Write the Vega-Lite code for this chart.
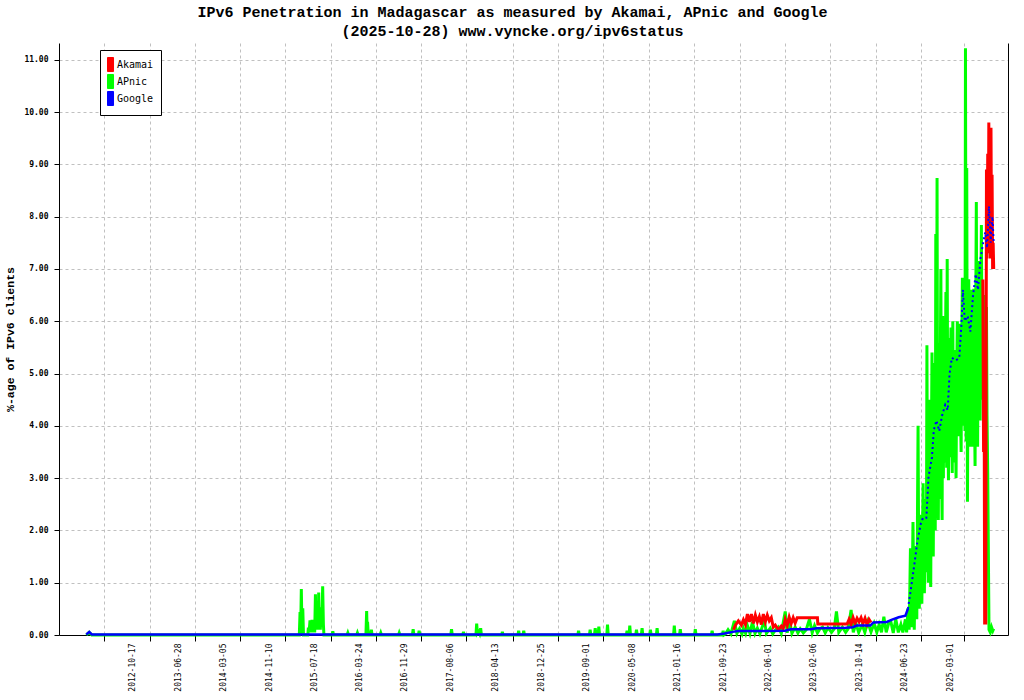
{
  "$schema": "https://vega.github.io/schema/vega-lite/v6.json",
  "width": 949,
  "height": 592,
  "autosize": "none",
  "padding": {"left": 59, "top": 43, "right": 16, "bottom": 65},
  "background": "white",
  "title": {
    "text": ["IPv6 Penetration in Madagascar as measured by Akamai, APnic and Google", "(2025-10-28) www.vyncke.org/ipv6status"],
    "font": "Liberation Mono",
    "fontSize": 15,
    "fontWeight": "bold",
    "color": "black",
    "anchor": "middle",
    "frame": "group",
    "dx": -21,
    "offset": 3,
    "lineHeight": 19
  },
  "data": {
    "values": [
      {"s": "APnic", "d": "2012-02-04", "v": 0},
      {"s": "APnic", "d": "2012-02-20", "v": 0.05},
      {"s": "APnic", "d": "2012-03-05", "v": 0},
      {"s": "APnic", "d": "2015-04-26", "v": 0},
      {"s": "APnic", "d": "2015-04-30", "v": 0.44},
      {"s": "APnic", "d": "2015-05-03", "v": 0.02},
      {"s": "APnic", "d": "2015-05-07", "v": 0.88},
      {"s": "APnic", "d": "2015-05-11", "v": 0.02},
      {"s": "APnic", "d": "2015-05-15", "v": 0.51},
      {"s": "APnic", "d": "2015-05-19", "v": 0},
      {"s": "APnic", "d": "2015-06-12", "v": 0},
      {"s": "APnic", "d": "2015-06-15", "v": 0.14},
      {"s": "APnic", "d": "2015-06-19", "v": 0.05},
      {"s": "APnic", "d": "2015-06-24", "v": 0.28},
      {"s": "APnic", "d": "2015-06-28", "v": 0.05},
      {"s": "APnic", "d": "2015-07-02", "v": 0.2},
      {"s": "APnic", "d": "2015-07-05", "v": 0.29},
      {"s": "APnic", "d": "2015-07-10", "v": 0.05},
      {"s": "APnic", "d": "2015-07-15", "v": 0.23},
      {"s": "APnic", "d": "2015-07-20", "v": 0.05},
      {"s": "APnic", "d": "2015-07-24", "v": 0.78},
      {"s": "APnic", "d": "2015-07-27", "v": 0.1},
      {"s": "APnic", "d": "2015-07-29", "v": 0.45},
      {"s": "APnic", "d": "2015-08-02", "v": 0.1},
      {"s": "APnic", "d": "2015-08-06", "v": 0.5},
      {"s": "APnic", "d": "2015-08-08", "v": 0.1},
      {"s": "APnic", "d": "2015-08-11", "v": 0.81},
      {"s": "APnic", "d": "2015-08-14", "v": 0.15},
      {"s": "APnic", "d": "2015-08-17", "v": 0.53},
      {"s": "APnic", "d": "2015-08-20", "v": 0.1},
      {"s": "APnic", "d": "2015-08-24", "v": 0.45},
      {"s": "APnic", "d": "2015-08-28", "v": 0.15},
      {"s": "APnic", "d": "2015-09-02", "v": 0.93},
      {"s": "APnic", "d": "2015-09-06", "v": 0.2},
      {"s": "APnic", "d": "2015-09-09", "v": 0},
      {"s": "APnic", "d": "2015-10-24", "v": 0},
      {"s": "APnic", "d": "2015-10-28", "v": 0.07},
      {"s": "APnic", "d": "2015-11-01", "v": 0},
      {"s": "APnic", "d": "2016-01-15", "v": 0},
      {"s": "APnic", "d": "2016-01-19", "v": 0.04},
      {"s": "APnic", "d": "2016-01-23", "v": 0},
      {"s": "APnic", "d": "2016-03-08", "v": 0},
      {"s": "APnic", "d": "2016-03-12", "v": 0.04},
      {"s": "APnic", "d": "2016-03-16", "v": 0},
      {"s": "APnic", "d": "2016-04-28", "v": 0},
      {"s": "APnic", "d": "2016-05-02", "v": 0.46},
      {"s": "APnic", "d": "2016-05-05", "v": 0.05},
      {"s": "APnic", "d": "2016-05-07", "v": 0.25},
      {"s": "APnic", "d": "2016-05-11", "v": 0},
      {"s": "APnic", "d": "2016-05-24", "v": 0},
      {"s": "APnic", "d": "2016-05-28", "v": 0.1},
      {"s": "APnic", "d": "2016-06-01", "v": 0},
      {"s": "APnic", "d": "2016-07-15", "v": 0},
      {"s": "APnic", "d": "2016-07-19", "v": 0.04},
      {"s": "APnic", "d": "2016-07-23", "v": 0},
      {"s": "APnic", "d": "2016-10-25", "v": 0},
      {"s": "APnic", "d": "2016-10-29", "v": 0.04},
      {"s": "APnic", "d": "2016-11-02", "v": 0},
      {"s": "APnic", "d": "2017-01-10", "v": 0},
      {"s": "APnic", "d": "2017-01-14", "v": 0.11},
      {"s": "APnic", "d": "2017-01-18", "v": 0},
      {"s": "APnic", "d": "2017-02-12", "v": 0},
      {"s": "APnic", "d": "2017-02-16", "v": 0.08},
      {"s": "APnic", "d": "2017-02-20", "v": 0},
      {"s": "APnic", "d": "2017-08-10", "v": 0},
      {"s": "APnic", "d": "2017-08-14", "v": 0.11},
      {"s": "APnic", "d": "2017-08-18", "v": 0},
      {"s": "APnic", "d": "2017-10-15", "v": 0},
      {"s": "APnic", "d": "2017-10-19", "v": 0.06},
      {"s": "APnic", "d": "2017-10-23", "v": 0},
      {"s": "APnic", "d": "2017-12-27", "v": 0},
      {"s": "APnic", "d": "2017-12-31", "v": 0.22},
      {"s": "APnic", "d": "2018-01-04", "v": 0.03},
      {"s": "APnic", "d": "2018-01-10", "v": 0.06},
      {"s": "APnic", "d": "2018-01-16", "v": 0.02},
      {"s": "APnic", "d": "2018-01-22", "v": 0.13},
      {"s": "APnic", "d": "2018-01-26", "v": 0},
      {"s": "APnic", "d": "2018-05-18", "v": 0},
      {"s": "APnic", "d": "2018-05-22", "v": 0.06},
      {"s": "APnic", "d": "2018-05-26", "v": 0},
      {"s": "APnic", "d": "2018-08-16", "v": 0},
      {"s": "APnic", "d": "2018-08-20", "v": 0.08},
      {"s": "APnic", "d": "2018-08-24", "v": 0},
      {"s": "APnic", "d": "2018-09-13", "v": 0},
      {"s": "APnic", "d": "2018-09-17", "v": 0.08},
      {"s": "APnic", "d": "2018-09-21", "v": 0},
      {"s": "APnic", "d": "2019-07-13", "v": 0},
      {"s": "APnic", "d": "2019-07-17", "v": 0.08},
      {"s": "APnic", "d": "2019-07-21", "v": 0},
      {"s": "APnic", "d": "2019-09-15", "v": 0},
      {"s": "APnic", "d": "2019-09-19", "v": 0.1},
      {"s": "APnic", "d": "2019-09-23", "v": 0},
      {"s": "APnic", "d": "2019-10-13", "v": 0},
      {"s": "APnic", "d": "2019-10-17", "v": 0.13},
      {"s": "APnic", "d": "2019-10-21", "v": 0},
      {"s": "APnic", "d": "2019-11-02", "v": 0},
      {"s": "APnic", "d": "2019-11-06", "v": 0.16},
      {"s": "APnic", "d": "2019-11-10", "v": 0},
      {"s": "APnic", "d": "2019-12-20", "v": 0},
      {"s": "APnic", "d": "2019-12-24", "v": 0.2},
      {"s": "APnic", "d": "2019-12-28", "v": 0},
      {"s": "APnic", "d": "2020-04-06", "v": 0},
      {"s": "APnic", "d": "2020-04-10", "v": 0.08},
      {"s": "APnic", "d": "2020-04-14", "v": 0},
      {"s": "APnic", "d": "2020-04-21", "v": 0},
      {"s": "APnic", "d": "2020-04-25", "v": 0.18},
      {"s": "APnic", "d": "2020-04-29", "v": 0},
      {"s": "APnic", "d": "2020-05-28", "v": 0},
      {"s": "APnic", "d": "2020-06-01", "v": 0.1},
      {"s": "APnic", "d": "2020-06-05", "v": 0},
      {"s": "APnic", "d": "2020-06-28", "v": 0},
      {"s": "APnic", "d": "2020-07-02", "v": 0.13},
      {"s": "APnic", "d": "2020-07-06", "v": 0},
      {"s": "APnic", "d": "2020-08-13", "v": 0},
      {"s": "APnic", "d": "2020-08-17", "v": 0.1},
      {"s": "APnic", "d": "2020-08-21", "v": 0},
      {"s": "APnic", "d": "2020-09-19", "v": 0},
      {"s": "APnic", "d": "2020-09-23", "v": 0.13},
      {"s": "APnic", "d": "2020-09-27", "v": 0},
      {"s": "APnic", "d": "2020-12-23", "v": 0},
      {"s": "APnic", "d": "2020-12-27", "v": 0.18},
      {"s": "APnic", "d": "2020-12-31", "v": 0},
      {"s": "APnic", "d": "2021-01-25", "v": 0},
      {"s": "APnic", "d": "2021-01-29", "v": 0.11},
      {"s": "APnic", "d": "2021-02-02", "v": 0},
      {"s": "APnic", "d": "2021-04-18", "v": 0},
      {"s": "APnic", "d": "2021-04-22", "v": 0.11},
      {"s": "APnic", "d": "2021-04-26", "v": 0},
      {"s": "APnic", "d": "2021-07-20", "v": 0},
      {"s": "APnic", "d": "2021-07-24", "v": 0.08},
      {"s": "APnic", "d": "2021-07-28", "v": 0},
      {"s": "APnic", "d": "2021-09-19", "v": 0},
      {"s": "APnic", "d": "2021-09-23", "v": 0.08},
      {"s": "APnic", "d": "2021-09-27", "v": 0},
      {"s": "APnic", "d": "2021-10-05", "v": 0.02},
      {"s": "APnic", "d": "2021-10-20", "v": 0.1},
      {"s": "APnic", "d": "2021-11-05", "v": 0.02},
      {"s": "APnic", "d": "2021-11-24", "v": 0.27},
      {"s": "APnic", "d": "2021-12-08", "v": 0.03},
      {"s": "APnic", "d": "2021-12-22", "v": 0.12},
      {"s": "APnic", "d": "2022-01-05", "v": 0.02},
      {"s": "APnic", "d": "2022-01-13", "v": 0.13},
      {"s": "APnic", "d": "2022-01-25", "v": 0.03},
      {"s": "APnic", "d": "2022-02-04", "v": 0.18},
      {"s": "APnic", "d": "2022-02-18", "v": 0.03},
      {"s": "APnic", "d": "2022-03-04", "v": 0.25},
      {"s": "APnic", "d": "2022-03-18", "v": 0.03},
      {"s": "APnic", "d": "2022-03-31", "v": 0.13},
      {"s": "APnic", "d": "2022-04-14", "v": 0.02},
      {"s": "APnic", "d": "2022-05-09", "v": 0.28},
      {"s": "APnic", "d": "2022-05-20", "v": 0.03},
      {"s": "APnic", "d": "2022-06-10", "v": 0.13},
      {"s": "APnic", "d": "2022-06-24", "v": 0.02},
      {"s": "APnic", "d": "2022-07-10", "v": 0.1},
      {"s": "APnic", "d": "2022-07-25", "v": 0.15},
      {"s": "APnic", "d": "2022-08-10", "v": 0.03},
      {"s": "APnic", "d": "2022-09-01", "v": 0.45},
      {"s": "APnic", "d": "2022-09-12", "v": 0.04},
      {"s": "APnic", "d": "2022-09-23", "v": 0.32},
      {"s": "APnic", "d": "2022-10-08", "v": 0.03},
      {"s": "APnic", "d": "2022-10-26", "v": 0.15},
      {"s": "APnic", "d": "2022-11-10", "v": 0.04},
      {"s": "APnic", "d": "2022-11-23", "v": 0.12},
      {"s": "APnic", "d": "2022-12-10", "v": 0.04},
      {"s": "APnic", "d": "2022-12-26", "v": 0.1},
      {"s": "APnic", "d": "2023-01-13", "v": 0.3},
      {"s": "APnic", "d": "2023-01-28", "v": 0.04},
      {"s": "APnic", "d": "2023-02-10", "v": 0.18},
      {"s": "APnic", "d": "2023-02-26", "v": 0.04},
      {"s": "APnic", "d": "2023-03-12", "v": 0.12},
      {"s": "APnic", "d": "2023-03-26", "v": 0.15},
      {"s": "APnic", "d": "2023-04-10", "v": 0.04},
      {"s": "APnic", "d": "2023-04-25", "v": 0.14},
      {"s": "APnic", "d": "2023-05-15", "v": 0.05},
      {"s": "APnic", "d": "2023-05-30", "v": 0.12},
      {"s": "APnic", "d": "2023-06-11", "v": 0.45},
      {"s": "APnic", "d": "2023-06-24", "v": 0.05},
      {"s": "APnic", "d": "2023-07-14", "v": 0.15},
      {"s": "APnic", "d": "2023-08-01", "v": 0.05},
      {"s": "APnic", "d": "2023-08-15", "v": 0.12},
      {"s": "APnic", "d": "2023-08-31", "v": 0.48},
      {"s": "APnic", "d": "2023-09-12", "v": 0.05},
      {"s": "APnic", "d": "2023-09-27", "v": 0.22},
      {"s": "APnic", "d": "2023-10-12", "v": 0.05},
      {"s": "APnic", "d": "2023-10-31", "v": 0.2},
      {"s": "APnic", "d": "2023-11-15", "v": 0.05},
      {"s": "APnic", "d": "2023-12-01", "v": 0.25},
      {"s": "APnic", "d": "2023-12-19", "v": 0.06},
      {"s": "APnic", "d": "2024-01-05", "v": 0.22},
      {"s": "APnic", "d": "2024-01-20", "v": 0.05},
      {"s": "APnic", "d": "2024-02-02", "v": 0.2},
      {"s": "APnic", "d": "2024-02-15", "v": 0.05},
      {"s": "APnic", "d": "2024-02-28", "v": 0.35},
      {"s": "APnic", "d": "2024-03-12", "v": 0.05},
      {"s": "APnic", "d": "2024-03-25", "v": 0.22},
      {"s": "APnic", "d": "2024-04-07", "v": 0.25},
      {"s": "APnic", "d": "2024-04-20", "v": 0.04},
      {"s": "APnic", "d": "2024-05-04", "v": 0.3},
      {"s": "APnic", "d": "2024-05-18", "v": 0.05},
      {"s": "APnic", "d": "2024-06-01", "v": 0.2},
      {"s": "APnic", "d": "2024-06-12", "v": 0.05},
      {"s": "APnic", "d": "2024-06-26", "v": 0.3},
      {"s": "APnic", "d": "2024-07-03", "v": 0.05},
      {"s": "APnic", "d": "2024-07-10", "v": 0.51},
      {"s": "APnic", "d": "2024-07-17", "v": 0.1},
      {"s": "APnic", "d": "2024-07-24", "v": 1.66},
      {"s": "APnic", "d": "2024-07-31", "v": 0.15},
      {"s": "APnic", "d": "2024-08-07", "v": 2.16},
      {"s": "APnic", "d": "2024-08-14", "v": 0.1},
      {"s": "APnic", "d": "2024-08-21", "v": 1.7},
      {"s": "APnic", "d": "2024-08-28", "v": 0.3},
      {"s": "APnic", "d": "2024-09-04", "v": 4.0},
      {"s": "APnic", "d": "2024-09-08", "v": 1.2},
      {"s": "APnic", "d": "2024-09-11", "v": 0.5},
      {"s": "APnic", "d": "2024-09-14", "v": 1.6},
      {"s": "APnic", "d": "2024-09-18", "v": 2.3},
      {"s": "APnic", "d": "2024-09-21", "v": 1.0},
      {"s": "APnic", "d": "2024-09-25", "v": 0.6},
      {"s": "APnic", "d": "2024-09-28", "v": 1.8},
      {"s": "APnic", "d": "2024-10-02", "v": 2.9},
      {"s": "APnic", "d": "2024-10-05", "v": 1.4},
      {"s": "APnic", "d": "2024-10-09", "v": 0.8},
      {"s": "APnic", "d": "2024-10-12", "v": 2.0},
      {"s": "APnic", "d": "2024-10-16", "v": 2.6},
      {"s": "APnic", "d": "2024-10-20", "v": 1.2},
      {"s": "APnic", "d": "2024-10-23", "v": 5.54},
      {"s": "APnic", "d": "2024-10-26", "v": 2.2},
      {"s": "APnic", "d": "2024-10-30", "v": 1.0},
      {"s": "APnic", "d": "2024-11-02", "v": 2.8},
      {"s": "APnic", "d": "2024-11-06", "v": 4.5},
      {"s": "APnic", "d": "2024-11-09", "v": 1.8},
      {"s": "APnic", "d": "2024-11-13", "v": 0.92},
      {"s": "APnic", "d": "2024-11-16", "v": 3.2},
      {"s": "APnic", "d": "2024-11-20", "v": 5.4},
      {"s": "APnic", "d": "2024-11-23", "v": 2.4},
      {"s": "APnic", "d": "2024-11-27", "v": 1.5},
      {"s": "APnic", "d": "2024-11-30", "v": 3.6},
      {"s": "APnic", "d": "2024-12-04", "v": 5.2},
      {"s": "APnic", "d": "2024-12-08", "v": 2.0},
      {"s": "APnic", "d": "2024-12-11", "v": 7.67},
      {"s": "APnic", "d": "2024-12-14", "v": 2.3},
      {"s": "APnic", "d": "2024-12-18", "v": 8.74},
      {"s": "APnic", "d": "2024-12-21", "v": 3.4},
      {"s": "APnic", "d": "2024-12-25", "v": 2.2},
      {"s": "APnic", "d": "2024-12-29", "v": 5.58},
      {"s": "APnic", "d": "2025-01-01", "v": 2.6},
      {"s": "APnic", "d": "2025-01-04", "v": 4.6},
      {"s": "APnic", "d": "2025-01-08", "v": 7.0},
      {"s": "APnic", "d": "2025-01-11", "v": 3.5},
      {"s": "APnic", "d": "2025-01-15", "v": 2.2},
      {"s": "APnic", "d": "2025-01-18", "v": 6.1},
      {"s": "APnic", "d": "2025-01-22", "v": 3.0},
      {"s": "APnic", "d": "2025-01-25", "v": 5.85},
      {"s": "APnic", "d": "2025-01-29", "v": 3.3},
      {"s": "APnic", "d": "2025-02-01", "v": 5.0},
      {"s": "APnic", "d": "2025-02-05", "v": 6.56},
      {"s": "APnic", "d": "2025-02-09", "v": 3.2},
      {"s": "APnic", "d": "2025-02-12", "v": 7.19},
      {"s": "APnic", "d": "2025-02-15", "v": 4.2},
      {"s": "APnic", "d": "2025-02-19", "v": 2.96},
      {"s": "APnic", "d": "2025-02-22", "v": 5.68},
      {"s": "APnic", "d": "2025-02-26", "v": 3.4},
      {"s": "APnic", "d": "2025-03-01", "v": 4.8},
      {"s": "APnic", "d": "2025-03-05", "v": 5.88},
      {"s": "APnic", "d": "2025-03-08", "v": 4.0},
      {"s": "APnic", "d": "2025-03-12", "v": 3.1},
      {"s": "APnic", "d": "2025-03-15", "v": 6.0},
      {"s": "APnic", "d": "2025-03-19", "v": 3.3},
      {"s": "APnic", "d": "2025-03-22", "v": 4.6},
      {"s": "APnic", "d": "2025-03-26", "v": 5.45},
      {"s": "APnic", "d": "2025-03-29", "v": 4.1},
      {"s": "APnic", "d": "2025-04-02", "v": 3.0},
      {"s": "APnic", "d": "2025-04-05", "v": 4.8},
      {"s": "APnic", "d": "2025-04-09", "v": 6.0},
      {"s": "APnic", "d": "2025-04-12", "v": 4.4},
      {"s": "APnic", "d": "2025-04-16", "v": 3.8},
      {"s": "APnic", "d": "2025-04-19", "v": 5.2},
      {"s": "APnic", "d": "2025-04-23", "v": 5.95},
      {"s": "APnic", "d": "2025-04-26", "v": 4.3},
      {"s": "APnic", "d": "2025-04-30", "v": 3.5},
      {"s": "APnic", "d": "2025-05-03", "v": 5.5},
      {"s": "APnic", "d": "2025-05-07", "v": 6.83},
      {"s": "APnic", "d": "2025-05-10", "v": 4.8},
      {"s": "APnic", "d": "2025-05-14", "v": 4.0},
      {"s": "APnic", "d": "2025-05-17", "v": 6.46},
      {"s": "APnic", "d": "2025-05-21", "v": 3.9},
      {"s": "APnic", "d": "2025-05-24", "v": 11.22},
      {"s": "APnic", "d": "2025-05-28", "v": 3.7},
      {"s": "APnic", "d": "2025-05-31", "v": 8.93},
      {"s": "APnic", "d": "2025-06-04", "v": 2.55},
      {"s": "APnic", "d": "2025-06-07", "v": 5.0},
      {"s": "APnic", "d": "2025-06-11", "v": 6.8},
      {"s": "APnic", "d": "2025-06-14", "v": 4.6},
      {"s": "APnic", "d": "2025-06-18", "v": 3.6},
      {"s": "APnic", "d": "2025-06-21", "v": 5.6},
      {"s": "APnic", "d": "2025-06-25", "v": 6.6},
      {"s": "APnic", "d": "2025-06-28", "v": 4.5},
      {"s": "APnic", "d": "2025-07-02", "v": 3.6},
      {"s": "APnic", "d": "2025-07-05", "v": 5.4},
      {"s": "APnic", "d": "2025-07-09", "v": 6.62},
      {"s": "APnic", "d": "2025-07-12", "v": 4.6},
      {"s": "APnic", "d": "2025-07-16", "v": 3.23},
      {"s": "APnic", "d": "2025-07-19", "v": 5.8},
      {"s": "APnic", "d": "2025-07-23", "v": 8.28},
      {"s": "APnic", "d": "2025-07-26", "v": 5.0},
      {"s": "APnic", "d": "2025-07-30", "v": 3.6},
      {"s": "APnic", "d": "2025-08-02", "v": 5.6},
      {"s": "APnic", "d": "2025-08-06", "v": 7.15},
      {"s": "APnic", "d": "2025-08-09", "v": 5.2},
      {"s": "APnic", "d": "2025-08-13", "v": 4.1},
      {"s": "APnic", "d": "2025-08-16", "v": 6.0},
      {"s": "APnic", "d": "2025-08-20", "v": 7.84},
      {"s": "APnic", "d": "2025-08-23", "v": 5.6},
      {"s": "APnic", "d": "2025-08-27", "v": 4.5},
      {"s": "APnic", "d": "2025-08-30", "v": 5.8},
      {"s": "APnic", "d": "2025-09-03", "v": 6.5},
      {"s": "APnic", "d": "2025-09-06", "v": 4.4},
      {"s": "APnic", "d": "2025-09-10", "v": 3.1},
      {"s": "APnic", "d": "2025-09-13", "v": 4.8},
      {"s": "APnic", "d": "2025-09-17", "v": 6.27},
      {"s": "APnic", "d": "2025-09-20", "v": 4.2},
      {"s": "APnic", "d": "2025-09-24", "v": 3.1},
      {"s": "APnic", "d": "2025-10-01", "v": 0.1},
      {"s": "APnic", "d": "2025-10-08", "v": 0.05},
      {"s": "APnic", "d": "2025-10-15", "v": 0.15},
      {"s": "APnic", "d": "2025-10-22", "v": 0.08},
      {"s": "APnic", "d": "2025-10-27", "v": 0.12},

      {"s": "Akamai", "p": 1, "d": "2021-11-19", "v": 0.1},
      {"s": "Akamai", "p": 1, "d": "2021-11-30", "v": 0.19},
      {"s": "Akamai", "p": 1, "d": "2021-12-16", "v": 0.27},
      {"s": "Akamai", "p": 1, "d": "2022-01-02", "v": 0.19},
      {"s": "Akamai", "p": 1, "d": "2022-01-13", "v": 0.29},
      {"s": "Akamai", "p": 1, "d": "2022-01-24", "v": 0.2},
      {"s": "Akamai", "p": 1, "d": "2022-02-04", "v": 0.4},
      {"s": "Akamai", "p": 1, "d": "2022-02-15", "v": 0.25},
      {"s": "Akamai", "p": 1, "d": "2022-02-26", "v": 0.4},
      {"s": "Akamai", "p": 1, "d": "2022-03-09", "v": 0.22},
      {"s": "Akamai", "p": 1, "d": "2022-03-20", "v": 0.38},
      {"s": "Akamai", "p": 1, "d": "2022-03-31", "v": 0.25},
      {"s": "Akamai", "p": 1, "d": "2022-04-11", "v": 0.35},
      {"s": "Akamai", "p": 1, "d": "2022-04-22", "v": 0.2},
      {"s": "Akamai", "p": 1, "d": "2022-05-03", "v": 0.4},
      {"s": "Akamai", "p": 1, "d": "2022-05-14", "v": 0.25},
      {"s": "Akamai", "p": 1, "d": "2022-05-25", "v": 0.38},
      {"s": "Akamai", "p": 1, "d": "2022-06-05", "v": 0.27},
      {"s": "Akamai", "p": 1, "d": "2022-06-16", "v": 0.33},
      {"s": "Akamai", "p": 1, "d": "2022-06-27", "v": 0.15},
      {"s": "Akamai", "p": 1, "d": "2022-07-08", "v": 0.19},
      {"s": "Akamai", "p": 1, "d": "2022-07-25", "v": 0.1},
      {"s": "Akamai", "p": 1, "d": "2022-08-10", "v": 0.17},
      {"s": "Akamai", "p": 1, "d": "2022-08-21", "v": 0.12},
      {"s": "Akamai", "p": 1, "d": "2022-09-01", "v": 0.3},
      {"s": "Akamai", "p": 1, "d": "2022-09-12", "v": 0.18},
      {"s": "Akamai", "p": 1, "d": "2022-09-23", "v": 0.34},
      {"s": "Akamai", "p": 1, "d": "2022-10-04", "v": 0.22},
      {"s": "Akamai", "p": 1, "d": "2022-10-15", "v": 0.33},
      {"s": "Akamai", "p": 1, "d": "2022-10-26", "v": 0.23},
      {"s": "Akamai", "p": 1, "d": "2022-11-06", "v": 0.33},
      {"s": "Akamai", "p": 1, "d": "2023-02-26", "v": 0.33},
      {"s": "Akamai", "p": 1, "d": "2023-02-28", "v": 0.21},
      {"s": "Akamai", "p": 1, "d": "2023-08-09", "v": 0.21},
      {"s": "Akamai", "p": 1, "d": "2023-08-20", "v": 0.3},
      {"s": "Akamai", "p": 1, "d": "2023-08-31", "v": 0.2},
      {"s": "Akamai", "p": 1, "d": "2023-09-11", "v": 0.33},
      {"s": "Akamai", "p": 1, "d": "2023-09-22", "v": 0.22},
      {"s": "Akamai", "p": 1, "d": "2023-10-03", "v": 0.32},
      {"s": "Akamai", "p": 1, "d": "2023-10-14", "v": 0.25},
      {"s": "Akamai", "p": 1, "d": "2023-10-25", "v": 0.33},
      {"s": "Akamai", "p": 1, "d": "2023-11-05", "v": 0.22},
      {"s": "Akamai", "p": 1, "d": "2023-11-16", "v": 0.32},
      {"s": "Akamai", "p": 1, "d": "2023-11-27", "v": 0.2},
      {"s": "Akamai", "p": 1, "d": "2023-12-08", "v": 0.3},
      {"s": "Akamai", "p": 1, "d": "2023-12-19", "v": 0.24},
      {"s": "Akamai", "p": 2, "d": "2025-08-28", "v": 6.8},
      {"s": "Akamai", "p": 2, "d": "2025-09-01", "v": 3.5},
      {"s": "Akamai", "p": 2, "d": "2025-09-04", "v": 5.0},
      {"s": "Akamai", "p": 2, "d": "2025-09-07", "v": 0.2},
      {"s": "Akamai", "p": 2, "d": "2025-09-10", "v": 3.4},
      {"s": "Akamai", "p": 2, "d": "2025-09-13", "v": 0.2},
      {"s": "Akamai", "p": 2, "d": "2025-09-17", "v": 8.9},
      {"s": "Akamai", "p": 2, "d": "2025-09-20", "v": 7.2},
      {"s": "Akamai", "p": 2, "d": "2025-09-24", "v": 9.2},
      {"s": "Akamai", "p": 2, "d": "2025-09-27", "v": 7.4},
      {"s": "Akamai", "p": 2, "d": "2025-09-30", "v": 9.8},
      {"s": "Akamai", "p": 2, "d": "2025-10-03", "v": 7.3},
      {"s": "Akamai", "p": 2, "d": "2025-10-06", "v": 9.0},
      {"s": "Akamai", "p": 2, "d": "2025-10-09", "v": 7.2},
      {"s": "Akamai", "p": 2, "d": "2025-10-12", "v": 9.7},
      {"s": "Akamai", "p": 2, "d": "2025-10-15", "v": 7.4},
      {"s": "Akamai", "p": 2, "d": "2025-10-18", "v": 8.8},
      {"s": "Akamai", "p": 2, "d": "2025-10-21", "v": 7.0},
      {"s": "Akamai", "p": 2, "d": "2025-10-24", "v": 7.5},
      {"s": "Akamai", "p": 2, "d": "2025-10-27", "v": 7.0},

      {"s": "Google", "d": "2012-02-04", "v": 0.01},
      {"s": "Google", "d": "2012-02-20", "v": 0.06},
      {"s": "Google", "d": "2012-03-05", "v": 0.01},
      {"s": "Google", "d": "2021-08-23", "v": 0.01},
      {"s": "Google", "d": "2021-10-01", "v": 0.03},
      {"s": "Google", "d": "2021-11-15", "v": 0.06},
      {"s": "Google", "d": "2021-12-15", "v": 0.075},
      {"s": "Google", "d": "2022-09-01", "v": 0.08},
      {"s": "Google", "d": "2022-10-01", "v": 0.11},
      {"s": "Google", "d": "2023-01-20", "v": 0.11},
      {"s": "Google", "d": "2023-02-20", "v": 0.13},
      {"s": "Google", "d": "2023-08-01", "v": 0.14},
      {"s": "Google", "d": "2023-09-10", "v": 0.15},
      {"s": "Google", "d": "2023-10-01", "v": 0.18},
      {"s": "Google", "d": "2023-12-15", "v": 0.18},
      {"s": "Google", "d": "2024-01-01", "v": 0.24},
      {"s": "Google", "d": "2024-03-15", "v": 0.25},
      {"s": "Google", "d": "2024-04-10", "v": 0.29},
      {"s": "Google", "d": "2024-05-20", "v": 0.34},
      {"s": "Google", "d": "2024-06-26", "v": 0.37},
      {"s": "Google", "d": "2024-07-10", "v": 0.5},
      {"s": "Google", "d": "2024-07-20", "v": 0.73},
      {"s": "Google", "d": "2024-08-05", "v": 1.11},
      {"s": "Google", "d": "2024-08-20", "v": 1.49},
      {"s": "Google", "d": "2024-09-01", "v": 1.81},
      {"s": "Google", "d": "2024-09-20", "v": 2.14},
      {"s": "Google", "d": "2024-10-01", "v": 2.24},
      {"s": "Google", "d": "2024-10-20", "v": 2.24},
      {"s": "Google", "d": "2024-11-01", "v": 3.03},
      {"s": "Google", "d": "2024-11-20", "v": 3.4},
      {"s": "Google", "d": "2024-11-30", "v": 3.92},
      {"s": "Google", "d": "2024-12-15", "v": 4.1},
      {"s": "Google", "d": "2024-12-30", "v": 3.9},
      {"s": "Google", "d": "2025-01-15", "v": 4.2},
      {"s": "Google", "d": "2025-02-01", "v": 4.4},
      {"s": "Google", "d": "2025-02-15", "v": 4.3},
      {"s": "Google", "d": "2025-02-25", "v": 5.0},
      {"s": "Google", "d": "2025-03-10", "v": 5.3},
      {"s": "Google", "d": "2025-04-01", "v": 5.25},
      {"s": "Google", "d": "2025-04-20", "v": 5.3},
      {"s": "Google", "d": "2025-05-01", "v": 5.9},
      {"s": "Google", "d": "2025-05-10", "v": 6.6},
      {"s": "Google", "d": "2025-05-20", "v": 6.0},
      {"s": "Google", "d": "2025-06-05", "v": 6.1},
      {"s": "Google", "d": "2025-06-20", "v": 5.8},
      {"s": "Google", "d": "2025-07-05", "v": 6.5},
      {"s": "Google", "d": "2025-07-20", "v": 6.9},
      {"s": "Google", "d": "2025-08-01", "v": 6.6},
      {"s": "Google", "d": "2025-08-15", "v": 7.2},
      {"s": "Google", "d": "2025-08-30", "v": 7.5},
      {"s": "Google", "d": "2025-09-10", "v": 7.7},
      {"s": "Google", "d": "2025-09-20", "v": 7.4},
      {"s": "Google", "d": "2025-10-01", "v": 8.2},
      {"s": "Google", "d": "2025-10-10", "v": 7.5},
      {"s": "Google", "d": "2025-10-20", "v": 8.0},
      {"s": "Google", "d": "2025-10-27", "v": 7.5}
    ]
  },
  "encoding": {
    "x": {
      "field": "d",
      "type": "temporal",
      "scale": {
        "type": "utc",
        "domain": [
          {"year": 2011, "month": 9, "date": 6, "utc": true},
          {"year": 2026, "month": 1, "date": 14, "utc": true}
        ]
      },
      "axis": {
        "title": null,
        "values": [
          {"year": 2012, "month": 10, "date": 17, "utc": true},
          {"year": 2013, "month": 6, "date": 28, "utc": true},
          {"year": 2014, "month": 3, "date": 5, "utc": true},
          {"year": 2014, "month": 11, "date": 10, "utc": true},
          {"year": 2015, "month": 7, "date": 18, "utc": true},
          {"year": 2016, "month": 3, "date": 24, "utc": true},
          {"year": 2016, "month": 11, "date": 29, "utc": true},
          {"year": 2017, "month": 8, "date": 6, "utc": true},
          {"year": 2018, "month": 4, "date": 13, "utc": true},
          {"year": 2018, "month": 12, "date": 25, "utc": true},
          {"year": 2019, "month": 9, "date": 1, "utc": true},
          {"year": 2020, "month": 5, "date": 8, "utc": true},
          {"year": 2021, "month": 1, "date": 16, "utc": true},
          {"year": 2021, "month": 9, "date": 23, "utc": true},
          {"year": 2022, "month": 6, "date": 1, "utc": true},
          {"year": 2023, "month": 2, "date": 6, "utc": true},
          {"year": 2023, "month": 10, "date": 14, "utc": true},
          {"year": 2024, "month": 6, "date": 23, "utc": true},
          {"year": 2025, "month": 3, "date": 1, "utc": true},
          {"year": 2025, "month": 10, "date": 24, "utc": true}
        ],
        "labelExpr": "utcFormat(datum.value, '%Y-%m-%d') == '2025-10-24' ? '' : utcFormat(datum.value, '%Y-%m-%d')",
        "labelAngle": 270,
        "labelFont": "DejaVu Sans Mono",
        "labelFontSize": 8,
        "labelColor": "black",
        "labelPadding": 2,
        "labelOffset": 29,
        "tickOffset": -29,
        "tickSize": 6,
        "labelOverlap": false,
        "labelBound": false,
        "labelFlush": false
      }
    },
    "color": {
      "field": "s",
      "type": "nominal",
      "scale": {"domain": ["Akamai", "APnic", "Google"], "range": ["#ff0000", "#00ff00", "#0000ff"]},
      "legend": {
        "title": null,
        "orient": "none",
        "legendX": 41,
        "legendY": 7,
        "direction": "vertical",
        "padding": 7,
        "strokeColor": "black",
        "fillColor": "white",
        "cornerRadius": 0,
        "symbolType": "M-1,-1H-0.14V1H-1Z",
        "symbolSize": 196,
        "labelFont": "DejaVu Sans Mono",
        "labelFontSize": 10,
        "labelColor": "black",
        "labelOffset": -5,
        "rowPadding": -2.5,
        "encode": {
          "symbols": {
            "update": {
              "fill": {"scale": "color", "field": "value"},
              "stroke": {"value": "black"},
              "strokeWidth": {"value": 1},
              "opacity": {"value": 1}
            }
          }
        }
      }
    }
  },
  "layer": [
    {
      "transform": [{"filter": "datum.s === 'APnic'"}],
      "mark": {"type": "line", "strokeWidth": 3},
      "encoding": {
        "y": {
          "field": "v",
          "type": "quantitative",
          "scale": {"domain": [0, 11.32], "nice": false},
          "axis": {
            "title": "%-age of IPv6 clients",
            "values": [0, 1, 2, 3, 4, 5, 6, 7, 8, 9, 10, 11],
            "format": ".2f",
            "labelFont": "DejaVu Sans Mono",
            "labelFontSize": 8,
            "labelFontWeight": "bold",
            "labelColor": "black",
            "labelPadding": 6,
            "tickSize": 5,
            "titleFont": "Liberation Mono",
            "titleFontSize": 11.5,
            "titleFontWeight": "bold",
            "titleColor": "black",
            "titlePadding": 8
          }
        }
      }
    },
    {
      "transform": [{"filter": "datum.s === 'Akamai'"}],
      "mark": {"type": "line", "strokeWidth": 3},
      "encoding": {
        "y": {"field": "v", "type": "quantitative", "scale": {"domain": [0, 11.32], "nice": false}, "axis": null},
        "detail": {"field": "p", "type": "nominal"}
      }
    },
    {
      "transform": [{"filter": "datum.s === 'Google' && time(datum.d) <= utc(2024, 6, 10)"}],
      "mark": {"type": "line", "strokeWidth": 2.5},
      "encoding": {
        "y": {"field": "v", "type": "quantitative", "scale": {"domain": [0, 11.32], "nice": false}, "axis": null}
      }
    },
    {
      "transform": [{"filter": "datum.s === 'Google' && time(datum.d) >= utc(2024, 6, 10)"}],
      "mark": {"type": "line", "strokeWidth": 2, "strokeDash": [2, 3]},
      "encoding": {
        "y": {
          "field": "v",
          "type": "quantitative",
          "scale": {"domain": [0, 11.32], "nice": false},
          "axis": {"orient": "right", "labels": false, "ticks": false, "grid": false, "title": null}
        }
      }
    }
  ],
  "resolve": {"axis": {"y": "independent"}},
  "config": {
    "view": {"stroke": null},
    "axis": {
      "domainColor": "black",
      "tickColor": "black",
      "grid": true,
      "gridColor": "#c0c0c0",
      "gridDash": [3, 3]
    }
  }
}
